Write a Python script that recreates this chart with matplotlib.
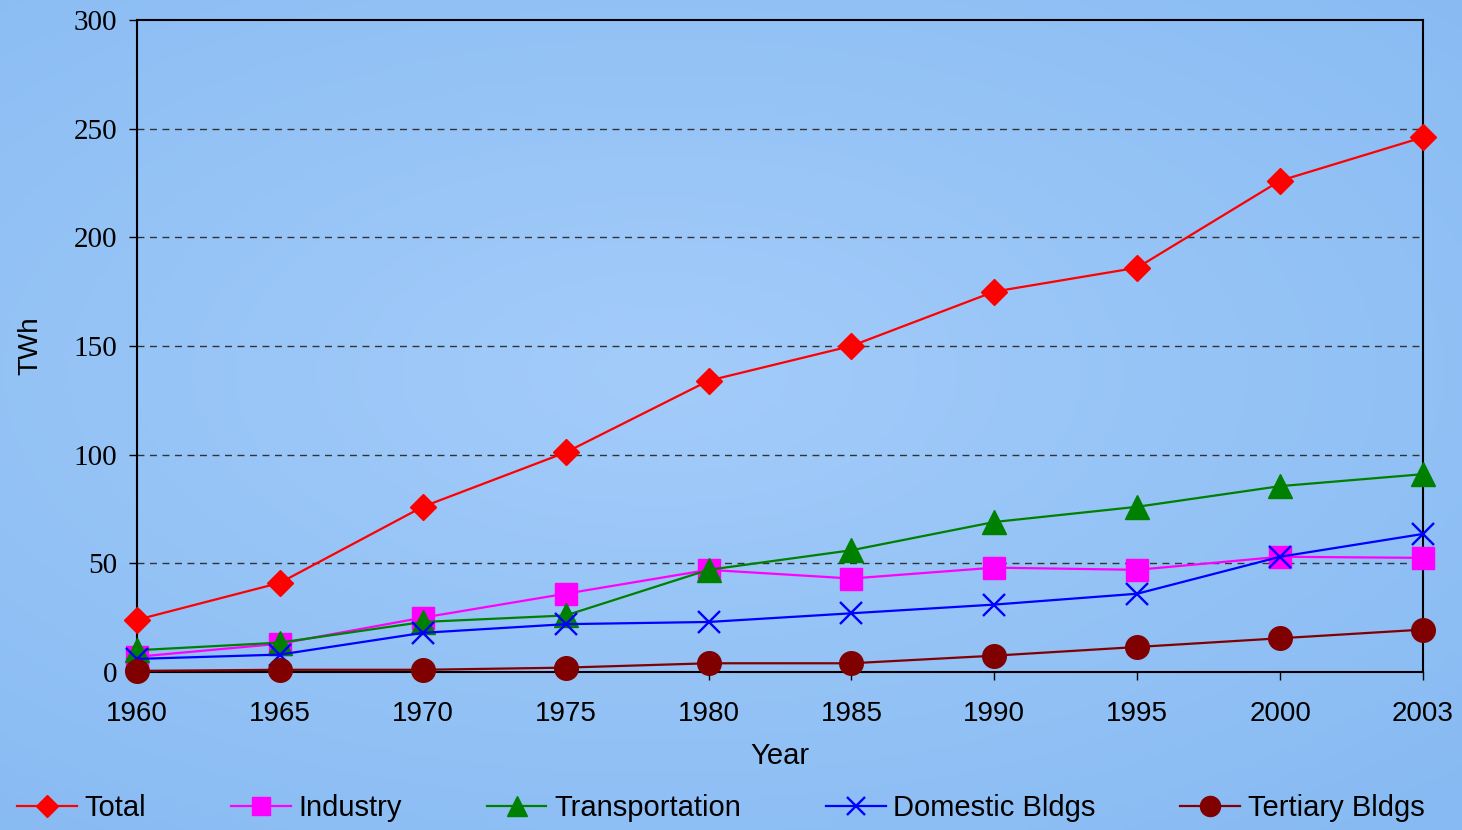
import matplotlib.pyplot as plt
import numpy as np

years = ["1960", "1965", "1970", "1975", "1980", "1985", "1990", "1995", "2000", "2003"]

total = [24, 41, 76, 101, 134, 150, 175, 186, 226, 246]
industry = [7, 13, 25, 36, 47, 43, 48, 47, 53, 52.5]
transport = [10, 13.5, 23, 26, 47, 56, 69, 76, 85.5, 91]
domestic = [6, 8, 18, 22, 23, 27, 31, 36, 53, 63.5]
tertiary = [0.5, 1, 1, 2, 4, 4, 7.5, 11.5, 15.5, 19.5]

fig = plt.figure(figsize=(14.62, 8.30), dpi=100)

# sky-like background gradient
bg = fig.add_axes([0, 0, 1, 1], zorder=-10)
yy, xx = np.mgrid[0:1:200j, 0:1:360j]
d = np.sqrt(((xx - 0.45) / 1.0) ** 2 + ((yy - 0.45) / 0.9) ** 2)
c0 = np.array([0.64, 0.80, 0.98])
c1 = np.array([0.53, 0.73, 0.95])
t = np.clip(d / 0.8, 0, 1)[..., None]
bg.imshow(c0 * (1 - t) + c1 * t, aspect="auto", extent=[0, 1, 0, 1])
bg.axis("off")

ax = fig.add_axes([0.0937, 0.1904, 0.8796, 0.7856])
ax.patch.set_alpha(0)
x = np.arange(len(years))

ax.plot(x, total, color="#ff0000", marker="D", ms=13, lw=1.6, label="Total", clip_on=False, zorder=5)
ax.plot(x, industry, color="#ff00ff", marker="s", ms=16, lw=1.6, label="Industry", clip_on=False, zorder=4)
ax.plot(x, transport, color="#008000", marker="^", ms=17, lw=1.6, label="Transportation", clip_on=False, zorder=4)
ax.plot(x, domestic, color="#0000ff", marker="x", ms=16, mew=1.7, lw=1.6, label="Domestic Bldgs", clip_on=False, zorder=5)
ax.plot(x, tertiary, color="#800000", marker="o", ms=17, lw=1.6, label="Tertiary Bldgs", clip_on=False, zorder=5)

ax.set_xlim(0, len(years) - 1)
ax.set_ylim(0, 300)
ax.set_xticks(x)
ax.set_xticklabels(years, fontsize=20, family="Liberation Sans")
ax.set_yticks(range(0, 301, 50))
ax.set_yticklabels([str(v) for v in range(0, 301, 50)], fontsize=21, family="Liberation Serif")
ax.tick_params(axis="both", direction="out", length=6, width=1, color="black")
ax.tick_params(axis="x", pad=15)
ax.tick_params(axis="y", pad=8)
for yv in range(50, 300, 50):
    ax.axhline(yv, color="#333333", lw=1, ls=(0, (5, 4)), zorder=1)
for s in ax.spines.values():
    s.set_linewidth(1.5)
    s.set_color("black")

ax.set_xlabel("Year", fontsize=21, family="Liberation Sans", labelpad=11)
ax.set_ylabel("TWh", fontsize=20, family="Liberation Sans", labelpad=22)

leg = fig.legend(loc="center left", bbox_to_anchor=(17 / 1462, 1 - 808 / 830), ncol=5, frameon=False,
                 prop={"family": "Liberation Sans", "size": 21}, handlelength=2.05,
                 columnspacing=2.9, handletextpad=0.27, borderaxespad=0, borderpad=0,
                 markerscale=0.85)

fig.savefig("out.png", dpi=100)
